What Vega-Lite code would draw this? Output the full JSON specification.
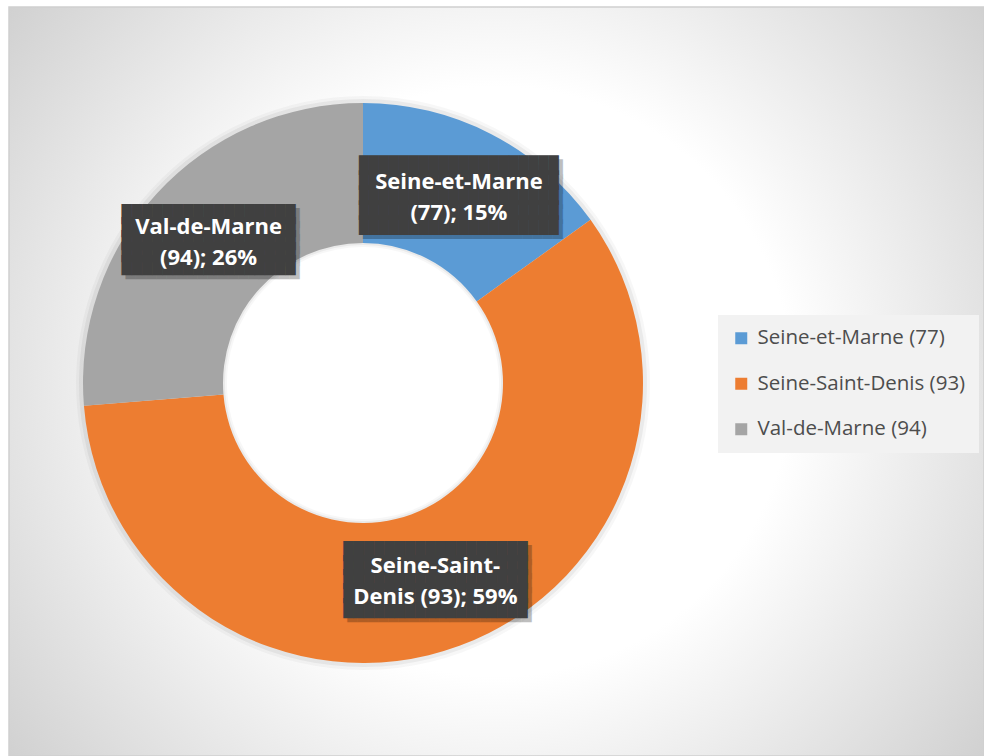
{
  "$schema": "https://vega.github.io/schema/vega-lite/v6.json",
  "width": 975,
  "height": 749,
  "autosize": "none",
  "padding": {"left": 9, "top": 7, "right": 0, "bottom": 0},
  "background": "white",
  "config": {
    "view": {"stroke": null},
    "legend": {
      "orient": "none",
      "legendX": 709,
      "legendY": 308,
      "fillColor": "#f2f2f2",
      "padding": 13,
      "symbolType": "square",
      "symbolSize": 144,
      "symbolStrokeWidth": 0,
      "labelFont": "Open Sans",
      "labelFontSize": 20.5,
      "labelColor": "#4d4d4d",
      "labelOffset": 6,
      "rowPadding": 24.5,
      "labelLimit": 400
    }
  },
  "datasets": {
    "depts": [
      {"dept": "Seine-et-Marne (77)", "value": 15.1, "o": 1, "label": "Seine-et-Marne\n(77); 15%"},
      {"dept": "Seine-Saint-Denis (93)", "value": 58.6, "o": 2, "label": "Seine-Saint-\nDenis (93); 59%"},
      {"dept": "Val-de-Marne (94)", "value": 26.3, "o": 3, "label": "Val-de-Marne\n(94); 26%"}
    ],
    "frame": [{"k": 1}]
  },
  "layer": [
    {
      "data": {"name": "frame"},
      "mark": {
        "type": "rect", "x": 0, "y": 0, "x2": "width", "y2": "height",
        "stroke": "#d0d0d0", "strokeWidth": 1.5,
        "fill": {
          "gradient": "radial",
          "x1": 0.5, "y1": 0.5, "r1": 0,
          "x2": 0.5, "y2": 0.5, "r2": 0.72,
          "stops": [
            {"offset": 0, "color": "#ffffff"},
            {"offset": 0.42, "color": "#ffffff"},
            {"offset": 1, "color": "#c4c4c4"}
          ]
        }
      },
      "encoding": {}
    },
    {
      "data": {"name": "depts"},
      "layer": [
        {
          "mark": {"type": "arc", "outerRadius": 287, "innerRadius": 136, "x": 354, "y": 376, "fill": "black", "opacity": 0.03},
          "encoding": {
            "theta": {"field": "value", "type": "quantitative", "stack": true},
            "order": {"field": "o", "type": "quantitative"}
          }
        },
        {
          "mark": {"type": "arc", "outerRadius": 284, "innerRadius": 138, "x": 354, "y": 376, "fill": "black", "opacity": 0.05},
          "encoding": {
            "theta": {"field": "value", "type": "quantitative", "stack": true},
            "order": {"field": "o", "type": "quantitative"}
          }
        },
        {
          "mark": {"type": "arc", "outerRadius": 280, "innerRadius": 140, "x": 354, "y": 376},
          "encoding": {
            "theta": {"field": "value", "type": "quantitative", "stack": true},
            "order": {"field": "o", "type": "quantitative"},
            "color": {
              "field": "dept", "type": "nominal", "title": null,
              "scale": {"domain": ["Seine-et-Marne (77)", "Seine-Saint-Denis (93)", "Val-de-Marne (94)"], "range": ["#5B9BD5", "#ED7D31", "#A5A5A5"]}
            }
          }
        },
        {
          "mark": {"type": "text", "radius": 210, "x": 354, "y": 376, "dx": 4, "dy": -25.8, "font": "DejaVu Sans Mono", "fontSize": 16.6, "lineHeight": 14.9, "lineBreak": "\n", "fill": "black", "opacity": 0.25, "align": "center", "baseline": "middle"},
          "encoding": {
            "theta": {"field": "value", "type": "quantitative", "stack": true},
            "order": {"field": "o", "type": "quantitative"},
            "text": {"condition": {"test": "datum.o == 1", "value": "████████████████████\n████████████████████\n████████████████████\n████████████████████\n████████████████████"}, "value": ""}
          }
        },
        {
          "mark": {"type": "text", "radius": 210, "x": 354, "y": 376, "dy": -29.8, "font": "DejaVu Sans Mono", "fontSize": 16.6, "lineHeight": 14.9, "lineBreak": "\n", "fill": "#404040", "align": "center", "baseline": "middle"},
          "encoding": {
            "theta": {"field": "value", "type": "quantitative", "stack": true},
            "order": {"field": "o", "type": "quantitative"},
            "text": {"condition": {"test": "datum.o == 1", "value": "████████████████████\n████████████████████\n████████████████████\n████████████████████\n████████████████████"}, "value": ""}
          }
        },
        {
          "mark": {"type": "text", "radius": 210, "x": 354, "y": 376, "dx": 4, "dy": -24.6, "font": "DejaVu Sans Mono", "fontSize": 17, "lineHeight": 14.3, "lineBreak": "\n", "fill": "black", "opacity": 0.25, "align": "center", "baseline": "middle"},
          "encoding": {
            "theta": {"field": "value", "type": "quantitative", "stack": true},
            "order": {"field": "o", "type": "quantitative"},
            "text": {"condition": {"test": "datum.o == 2", "value": "██████████████████\n██████████████████\n██████████████████\n██████████████████\n██████████████████"}, "value": ""}
          }
        },
        {
          "mark": {"type": "text", "radius": 210, "x": 354, "y": 376, "dy": -28.6, "font": "DejaVu Sans Mono", "fontSize": 17, "lineHeight": 14.3, "lineBreak": "\n", "fill": "#404040", "align": "center", "baseline": "middle"},
          "encoding": {
            "theta": {"field": "value", "type": "quantitative", "stack": true},
            "order": {"field": "o", "type": "quantitative"},
            "text": {"condition": {"test": "datum.o == 2", "value": "██████████████████\n██████████████████\n██████████████████\n██████████████████\n██████████████████"}, "value": ""}
          }
        },
        {
          "mark": {"type": "text", "radius": 210, "x": 354, "y": 376, "dx": 4, "dy": -21.6, "font": "DejaVu Sans Mono", "fontSize": 17, "lineHeight": 12.8, "lineBreak": "\n", "fill": "black", "opacity": 0.25, "align": "center", "baseline": "middle"},
          "encoding": {
            "theta": {"field": "value", "type": "quantitative", "stack": true},
            "order": {"field": "o", "type": "quantitative"},
            "text": {"condition": {"test": "datum.o == 3", "value": "█████████████████\n█████████████████\n█████████████████\n█████████████████\n█████████████████"}, "value": ""}
          }
        },
        {
          "mark": {"type": "text", "radius": 210, "x": 354, "y": 376, "dy": -25.6, "font": "DejaVu Sans Mono", "fontSize": 17, "lineHeight": 12.8, "lineBreak": "\n", "fill": "#404040", "align": "center", "baseline": "middle"},
          "encoding": {
            "theta": {"field": "value", "type": "quantitative", "stack": true},
            "order": {"field": "o", "type": "quantitative"},
            "text": {"condition": {"test": "datum.o == 3", "value": "█████████████████\n█████████████████\n█████████████████\n█████████████████\n█████████████████"}, "value": ""}
          }
        },
        {
          "mark": {"type": "text", "radius": 210, "x": 354, "y": 376, "dy": -14, "font": "Open Sans", "fontWeight": "bold", "fontSize": 22, "lineHeight": 31, "lineBreak": "\n", "fill": "white", "align": "center", "baseline": "middle"},
          "encoding": {
            "theta": {"field": "value", "type": "quantitative", "stack": true},
            "order": {"field": "o", "type": "quantitative"},
            "text": {"field": "label", "type": "nominal"}
          }
        }
      ]
    }
  ]
}
